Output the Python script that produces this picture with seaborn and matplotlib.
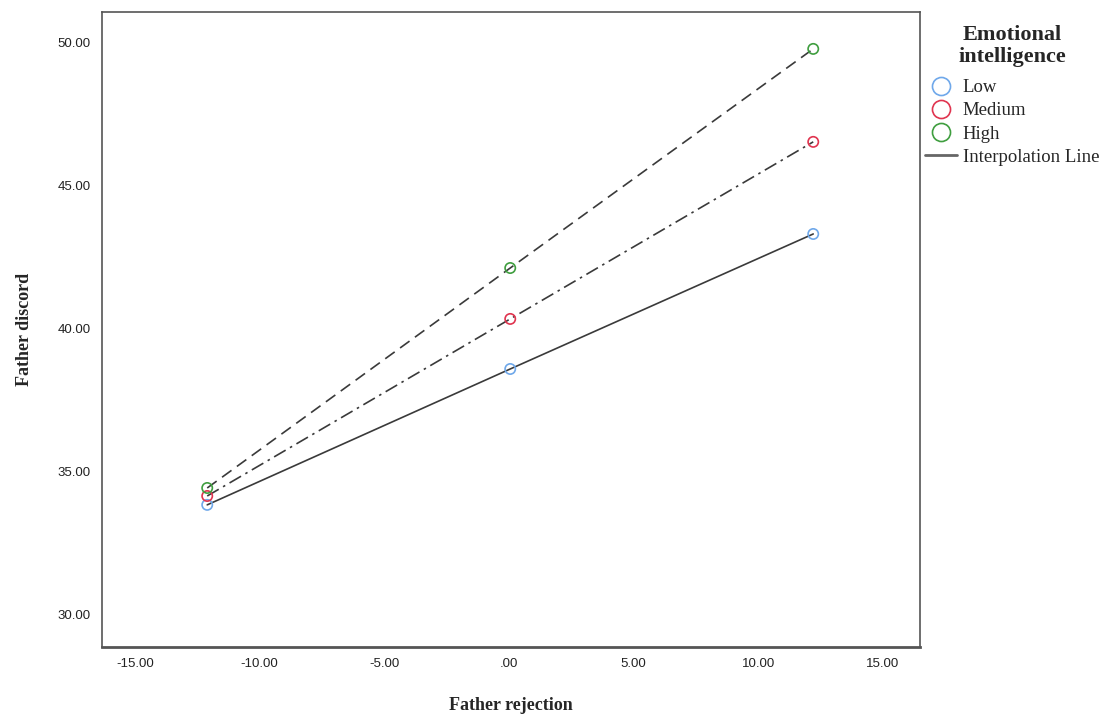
import numpy as np
import pandas as pd
import matplotlib
matplotlib.use("Agg")
import matplotlib.pyplot as plt
from matplotlib.lines import Line2D
import seaborn as sns

# Data
groups = ["Low", "Medium", "High"]
father_rejection = [-12.1, 0.05, 12.2]
low_vals = [33.85, 38.60, 43.32]
medium_vals = [34.16, 40.35, 46.54]
high_vals = [34.44, 42.13, 49.79]
x_ticks = [-15, -10, -5, 0, 5, 10, 15]
x_tick_labels = ["-15.00", "-10.00", "-5.00", ".00", "5.00", "10.00", "15.00"]
y_ticks = [30, 35, 40, 45, 50]
y_tick_labels = ["30.00", "35.00", "40.00", "45.00", "50.00"]

rows = []
for g, vals in zip(groups, [low_vals, medium_vals, high_vals]):
    for x, y in zip(father_rejection, vals):
        rows.append({"Father rejection": x, "Father discord": y, "Emotional intelligence": g})
df = pd.DataFrame(rows)

sns.set_theme(style="white")
plt.rcParams["font.family"] = ["Liberation Sans", "DejaVu Sans"]

marker_colors = {"Low": "#6fa8ea", "Medium": "#e0344f", "High": "#3f9e3f"}
dashes = {"Low": "", "Medium": (8, 3, 1.5, 3), "High": (7, 4)}

fig = plt.figure(figsize=(11.06, 7.14), dpi=100)
ax = fig.add_axes([0.0922, 0.0938, 0.7396, 0.8894])

sns.lineplot(data=df, x="Father rejection", y="Father discord", style="Emotional intelligence",
             dashes=dashes, color="#3a3a3a", linewidth=1.2, ax=ax, legend=False,
             style_order=groups)
sns.scatterplot(data=df, x="Father rejection", y="Father discord", hue="Emotional intelligence",
                palette=marker_colors, hue_order=groups, s=55, facecolor="none",
                ax=ax, legend=False, zorder=5)
# set hollow markers
for coll in ax.collections:
    fc = coll.get_facecolors()
    coll.set_edgecolors(fc)
    coll.set_facecolors("none")
    coll.set_linewidths(1.2)

ax.set_xlim(-16.32, 16.48)
ax.set_ylim(28.88, 51.08)
ax.set_xticks(x_ticks)
ax.set_xticklabels(x_tick_labels, fontsize=9.5, color="#222222")
ax.set_yticks(y_ticks)
ax.set_yticklabels(y_tick_labels, fontsize=9.5, color="#222222")
ax.tick_params(length=0, pad=8)
ax.set_xlabel("Father rejection", fontsize=13, fontweight="bold", family="Liberation Serif", labelpad=19)
ax.set_ylabel("Father discord", fontsize=13, fontweight="bold", family="Liberation Serif", labelpad=18)
for side, sp in ax.spines.items():
    sp.set_color("#555555")
    sp.set_linewidth(1.2)
ax.spines["bottom"].set_linewidth(2.0)

handles = [Line2D([], [], linestyle="none", marker="o", markersize=13, markerfacecolor="none",
                  markeredgecolor=marker_colors[g], markeredgewidth=1.2) for g in groups]
handles.append(Line2D([], [], color="#666666", linewidth=2))
labels = groups + ["Interpolation Line"]
leg = fig.legend(handles, labels, loc="upper left", bbox_to_anchor=(0.833, 0.970),
                 frameon=False, title="Emotional\nintelligence",
                 prop={"family": "Liberation Serif", "size": 13.5},
                 handlelength=1.7, handletextpad=0.3, labelspacing=0.32, borderaxespad=0,
                 borderpad=0.2)
leg.get_title().set_fontfamily("Liberation Serif")
leg.get_title().set_fontweight("bold")
leg.get_title().set_fontsize(16)
leg.get_title().set_multialignment("center")
leg.get_title().set_linespacing(1.1)
leg._legend_box.sep = 9

fig.savefig("out.png", dpi=100)
